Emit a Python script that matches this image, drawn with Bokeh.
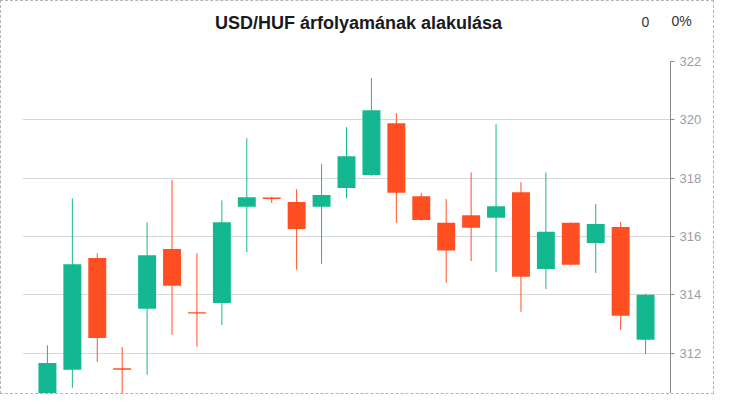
from bokeh.plotting import figure
from bokeh.models import ColumnDataSource, Range1d, FixedTicker, Label
from bokeh.embed import file_html
from bokeh.resources import INLINE

# Daily OHLC of USD/HUF (index = trading day)
day = list(range(26))
open_ = [309.9, 309.6, 311.43, 315.26, 311.48, 313.52, 315.57, 313.40, 313.72, 317.02,
         317.34, 317.18, 317.02, 317.66, 318.11, 319.88, 317.38, 316.47, 316.73, 316.64,
         317.52, 314.89, 316.47, 315.78, 316.33, 312.46]
high = [310.35, 312.27, 317.31, 315.43, 312.21, 316.49, 317.93, 315.43, 317.24, 319.37,
        317.36, 317.62, 318.48, 319.75, 321.43, 320.23, 317.49, 317.28, 318.20, 319.85,
        317.86, 318.20, 316.48, 317.11, 316.50, 314.04]
low = [309.0, 309.3, 310.81, 311.70, 310.36, 311.26, 312.63, 312.22, 312.97, 315.47,
       317.15, 314.86, 315.06, 317.31, 318.08, 316.47, 316.55, 314.41, 315.16, 314.79,
       313.42, 314.20, 315.02, 314.75, 312.80, 311.98]
close = [309.3, 311.66, 315.05, 312.52, 311.43, 315.36, 314.31, 313.36, 316.49, 317.35,
         317.29, 316.26, 317.42, 318.75, 320.33, 317.50, 316.57, 315.52, 316.30, 317.04,
         314.62, 316.16, 315.03, 316.43, 313.28, 314.00]
y_ticks = [310, 312, 314, 316, 318, 320, 322]
title_text = "USD/HUF árfolyamának alakulása"
change_abs = "0"
change_pct = "0%"

GREEN = "#13b891"
RED = "#ff4f22"

colors = [GREEN if c >= o else RED for o, c in zip(open_, close)]
src = ColumnDataSource(dict(
    x=day, open=open_, close=close, high=high, low=low,
    top=[max(o, c) for o, c in zip(open_, close)],
    bottom=[min(o, c) for o, c in zip(open_, close)],
    color=colors,
))

W, H = 714, 394
LEFT, TOP, RIGHT = 21, 60, 669
p = figure(width=W, height=H, output_backend="svg", toolbar_location=None,
           x_axis_location=None, y_axis_location="right",
           x_range=Range1d(0, 26), y_range=Range1d(322 - (H - TOP) / 29.17, 322),
           min_border_left=LEFT, min_border_right=W - RIGHT, min_border_top=TOP,
           min_border_bottom=0)
p.outline_line_color = None
p.background_fill_color = "white"
p.border_fill_color = "white"
p.styles = {"border": "1px dashed #b5b5b5"}

p.xgrid.grid_line_color = None
p.ygrid.grid_line_color = "#d4d7db"
p.ygrid.grid_line_width = 1
p.ygrid.ticker = FixedTicker(ticks=y_ticks)

ax = p.yaxis[0]
ax.ticker = FixedTicker(ticks=y_ticks)
ax.axis_line_color = "#888888"
ax.major_tick_line_color = "#888888"
ax.major_tick_out = 4
ax.major_tick_in = 0
ax.minor_tick_line_color = None
ax.major_label_text_color = "#9a9ea6"
ax.major_label_text_font = "Liberation Sans"
ax.major_label_text_font_size = "13px"
ax.major_label_standoff = 5

p.segment(x0="x", y0="high", x1="x", y1="low", color="color", line_width=1, source=src)
p.vbar(x="x", width=0.72, top="top", bottom="bottom", fill_color="color",
       line_color=None, source=src)

ty = TOP - 21
H1, H2 = 19, 9  # heights of the stacked 'above' panels
p.add_layout(Label(x=357 - LEFT, y=ty, x_units="screen", y_units="screen", text=title_text,
                   text_align="center", text_baseline="middle", text_font="Liberation Sans",
                   text_font_style="bold", text_font_size="18px", text_color="#1a1a1a"), "above")
p.add_layout(Label(x=644 - LEFT, y=ty - H1, x_units="screen", y_units="screen", text=change_abs,
                   text_align="center", text_baseline="middle", text_font="Liberation Sans",
                   text_font_size="14px", text_color="#333333"), "above")
p.add_layout(Label(x=680 - LEFT, y=ty - H1 - H2, x_units="screen", y_units="screen", text=change_pct,
                   text_align="center", text_baseline="middle", text_font="Liberation Sans",
                   text_font_size="14px", text_color="#333333"), "above")

open("out.html", "w").write(file_html(p, INLINE))
